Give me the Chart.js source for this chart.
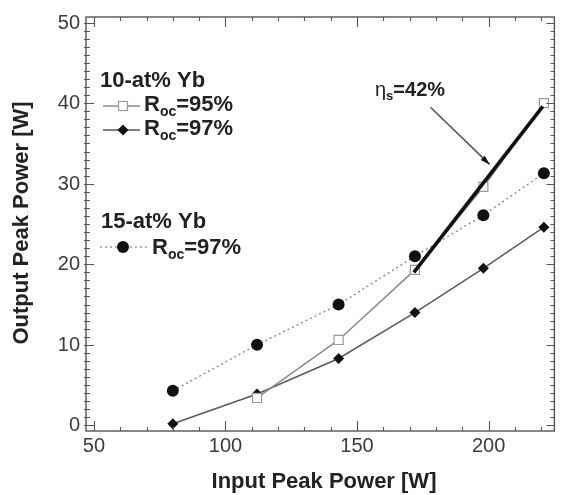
<!DOCTYPE html>
<html><head><meta charset="utf-8">
<script src="https://cdn.jsdelivr.net/npm/chart.js@4"></script>
<style>html,body{margin:0;padding:0;background:#fff}canvas{display:block}</style>
</head><body>
<div style="width:562px;height:495px"><canvas id="c" width="562" height="495"></canvas></div>
<script>
// ---- data ----
const inputPower = [80, 112, 143, 172, 198, 221];
const out10Yb95 = [null, 3.4, 10.6, 19.3, 29.6, 40.0];
const out10Yb97 = [0.2, 3.9, 8.3, 14.0, 19.5, 24.6];
const out15Yb97 = [4.3, 10.0, 15.0, 21.0, 26.1, 31.3];
const fitInput = [171.6, 220.6];
const fitOutput = [19.0, 39.6];
const xTicks = [50, 100, 150, 200];
const yTicks = [0, 10, 20, 30, 40, 50];
const xTitle = 'Input Peak Power [W]';
const yTitle = 'Output Peak Power [W]';

function pts(xs, ys) { return xs.map((x, i) => ({ x: x, y: ys[i] })).filter(p => p.y !== null); }

const FONT = '"Liberation Sans", Arial, Helvetica, sans-serif';

function drawSubText(ctx, x, y, parts, boldSize) {
  let cx = x;
  for (const p of parts) {
    if (p.sub) {
      ctx.font = 'bold ' + Math.round(boldSize * 0.65) + 'px ' + FONT;
      ctx.fillText(p.t, cx, y + boldSize * 0.33);
    } else {
      ctx.font = (p.normal ? '' : 'bold ') + boldSize + 'px ' + FONT;
      ctx.fillText(p.t, cx, y);
    }
    cx += ctx.measureText(p.t).width;
  }
}

const decor = {
  id: 'decor',
  afterDraw(chart) {
    const ctx = chart.ctx, a = chart.chartArea;
    const xs = chart.scales.x, ys = chart.scales.y;
    ctx.save();
    // frame
    ctx.strokeStyle = '#555';
    ctx.lineWidth = 1.4;
    ctx.strokeRect(a.left, a.top, a.right - a.left, a.bottom - a.top);
    // ticks
    ctx.lineWidth = 1.1;
    ctx.beginPath();
    for (let v = 50; v <= 225; v += 10) {
      const px = Math.round(xs.getPixelForValue(v)) + 0.5;
      const major = xTicks.includes(v);
      const len = major ? 10 : 4;
      ctx.moveTo(px, a.bottom); ctx.lineTo(px, a.bottom - len);
      ctx.moveTo(px, a.top); ctx.lineTo(px, a.top + len);
    }
    for (let v = 0; v <= 50; v += 1) {
      const py = Math.round(ys.getPixelForValue(v)) + 0.5;
      const major = yTicks.includes(v);
      const len = major ? 8 : 4;
      ctx.moveTo(a.left - 2, py); ctx.lineTo(a.left + len, py);
      ctx.moveTo(a.right, py); ctx.lineTo(a.right - len, py);
    }
    ctx.stroke();
    // tick labels
    ctx.fillStyle = '#3a3a3a';
    ctx.font = '20px ' + FONT;
    ctx.textAlign = 'center'; ctx.textBaseline = 'middle';
    xTicks.forEach(v => ctx.fillText(String(v), xs.getPixelForValue(v), 446));
    ctx.textAlign = 'right';
    yTicks.forEach(v => ctx.fillText(String(v), 80, ys.getPixelForValue(v) + 0.5));
    // axis titles
    ctx.fillStyle = '#222';
    ctx.font = 'bold 22px ' + FONT;
    ctx.textAlign = 'center';
    ctx.fillText(xTitle, 324, 482);
    ctx.save();
    ctx.translate(22, 223);
    ctx.rotate(-Math.PI / 2);
    ctx.fillText(yTitle, 0, 0);
    ctx.restore();

    // legend
    ctx.textAlign = 'left'; ctx.textBaseline = 'middle';
    ctx.fillStyle = '#222';
    ctx.font = 'bold 22px ' + FONT;
    ctx.fillText('10-at% Yb', 100, 81);
    ctx.fillText('15-at% Yb', 101, 222);
    // row 1: open square
    ctx.strokeStyle = '#8a8a8a'; ctx.lineWidth = 1.5;
    ctx.beginPath(); ctx.moveTo(103, 106); ctx.lineTo(140, 106); ctx.stroke();
    ctx.fillStyle = '#fff'; ctx.strokeStyle = '#999'; ctx.lineWidth = 1.2;
    ctx.fillRect(118.5, 101.5, 9, 9); ctx.strokeRect(118.5, 101.5, 9, 9);
    ctx.fillStyle = '#222';
    drawSubText(ctx, 144, 105, [{t: 'R'}, {t: 'oc', sub: true}, {t: '=95%'}], 22);
    // row 2: diamond
    ctx.strokeStyle = '#555'; ctx.lineWidth = 1.5;
    ctx.beginPath(); ctx.moveTo(103, 130); ctx.lineTo(140, 130); ctx.stroke();
    ctx.fillStyle = '#111';
    ctx.beginPath(); ctx.moveTo(123, 124.5); ctx.lineTo(128.5, 130); ctx.lineTo(123, 135.5); ctx.lineTo(117.5, 130); ctx.closePath(); ctx.fill();
    ctx.fillStyle = '#222';
    drawSubText(ctx, 144, 129, [{t: 'R'}, {t: 'oc', sub: true}, {t: '=97%'}], 22);
    // row 3: dotted + filled circle
    ctx.strokeStyle = '#999'; ctx.lineWidth = 1.5; ctx.setLineDash([2, 3]);
    ctx.beginPath(); ctx.moveTo(100, 247); ctx.lineTo(150, 247); ctx.stroke();
    ctx.setLineDash([]);
    ctx.fillStyle = '#111';
    ctx.beginPath(); ctx.arc(123, 247, 6, 0, Math.PI * 2); ctx.fill();
    ctx.fillStyle = '#222';
    drawSubText(ctx, 152, 248, [{t: 'R'}, {t: 'oc', sub: true}, {t: '=97%'}], 22);

    // slope annotation
    drawSubText(ctx, 375, 90, [{t: 'η', normal: true}, {t: 's', sub: true}, {t: '=42%'}], 20);
    // arrow (in data units)
    const x0 = xs.getPixelForValue(177.9), y0 = ys.getPixelForValue(39.5);
    const x1 = xs.getPixelForValue(200.4), y1 = ys.getPixelForValue(32.4);
    ctx.strokeStyle = '#555'; ctx.lineWidth = 1.6;
    ctx.beginPath(); ctx.moveTo(x0, y0); ctx.lineTo(x1, y1); ctx.stroke();
    const ang = Math.atan2(y1 - y0, x1 - x0);
    ctx.fillStyle = '#111';
    ctx.beginPath();
    ctx.moveTo(x1, y1);
    ctx.lineTo(x1 - 10 * Math.cos(ang - 0.3), y1 - 10 * Math.sin(ang - 0.3));
    ctx.lineTo(x1 - 10 * Math.cos(ang + 0.3), y1 - 10 * Math.sin(ang + 0.3));
    ctx.closePath(); ctx.fill();
    ctx.restore();
  }
};

new Chart(document.getElementById('c'), {
  type: 'scatter',
  data: {
    datasets: [
      { label: 'fit', data: pts(fitInput, fitOutput), showLine: true, borderColor: '#111', borderWidth: 3.6, pointRadius: 0, order: 0 },
      { label: '10-at% Yb R_oc=95%', data: pts(inputPower, out10Yb95), showLine: true, borderColor: '#8a8a8a', borderWidth: 1.5,
        pointStyle: 'rect', pointRadius: 6.4, pointBackgroundColor: '#fff', pointBorderColor: '#9a9a9a', pointBorderWidth: 1.2, order: 1 },
      { label: '10-at% Yb R_oc=97%', data: pts(inputPower, out10Yb97), showLine: true, borderColor: '#5a5a5a', borderWidth: 1.5,
        pointStyle: 'rectRot', pointRadius: 5.5, pointBackgroundColor: '#111', pointBorderColor: '#111', pointBorderWidth: 0, order: 2 },
      { label: '15-at% Yb R_oc=97%', data: pts(inputPower, out15Yb97), showLine: true, borderColor: '#8a8a8a', borderWidth: 1.4, borderDash: [2, 3],
        pointStyle: 'circle', pointRadius: 6, pointBackgroundColor: '#111', pointBorderColor: '#111', pointBorderWidth: 0, order: 3 }
    ]
  },
  options: {
    responsive: false,
    devicePixelRatio: 1,
    animation: false,
    layout: { padding: { left: 86, right: 6, top: 17, bottom: 64 } },
    plugins: { legend: { display: false }, tooltip: { enabled: false } },
    scales: {
      x: { type: 'linear', display: false, min: 47, max: 225 },
      y: { type: 'linear', display: false, min: -0.7, max: 50.7 }
    },
    elements: { line: { tension: 0 } }
  },
  plugins: [decor]
});
</script>
</body></html>
